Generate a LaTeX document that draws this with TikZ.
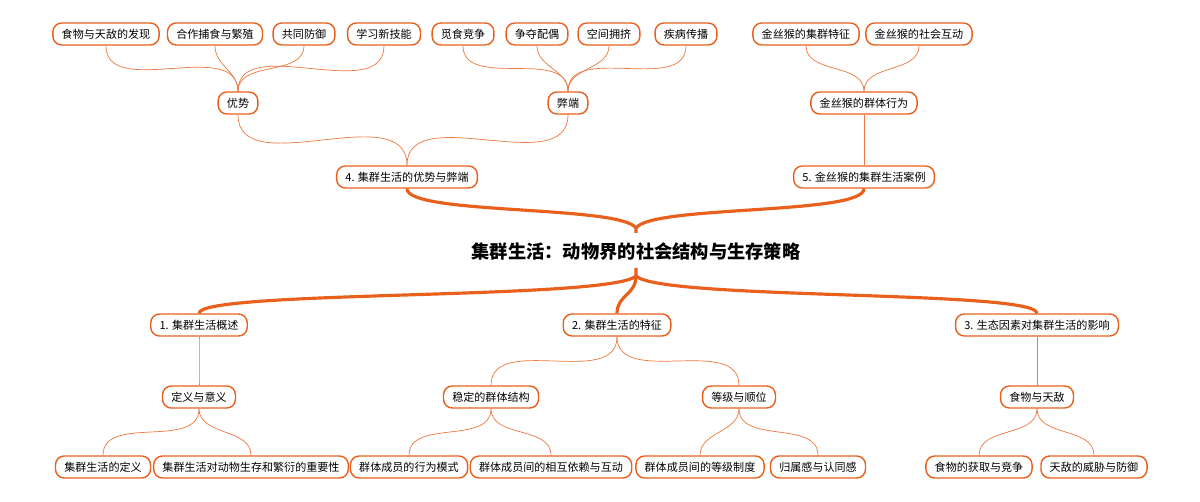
\documentclass[tikz,border=0pt]{standalone}
\usepackage{fontspec}
\setmainfont{Noto Sans CJK SC}
\usetikzlibrary{positioning}
\definecolor{mindorange}{HTML}{E8601C}
\tikzset{
  topic/.style={draw=mindorange, line width=0.8pt, rounded corners=5pt, fill=white,
    minimum height=0.44cm, inner xsep=5pt, font=\fontsize{6.3}{7}\selectfont},
  thin link/.style={draw=mindorange!85, line width=0.4pt},
  thick link/.style={draw=mindorange, line width=1.8pt}
}
\begin{document}
\begin{tikzpicture}[x=0.02cm, y=-0.02cm]
	\useasboundingbox (0,0) rectangle (1200,502);

	%Root of the map
	\node[font=\fontsize{10.4}{12}\selectfont\bfseries] (root) at (636,252) {集群生活：动物界的社会结构与生存策略};
	\coordinate (rt) at (636,233);
	\coordinate (rb) at (636,268);

	%First level
	\node[topic] (adv) at (407,177) {4. 集群生活的优势与弊端};
	\node[topic] (case) at (864,177) {5. 金丝猴的集群生活案例};
	\node[topic] (over) at (199,325) {1. 集群生活概述};
	\node[topic] (feat) at (617,325) {2. 集群生活的特征};
	\node[topic] (eco) at (1037,325) {3. 生态因素对集群生活的影响};

	%Second level
	\node[topic] (pro) at (238,103) {优势};
	\node[topic] (con) at (568,103) {弊端};
	\node[topic] (beh) at (864,103) {金丝猴的群体行为};
	\node[topic] (defn) at (199,397) {定义与意义};
	\node[topic] (stab) at (491,397) {稳定的群体结构};
	\node[topic] (rank) at (739,397) {等级与顺位};
	\node[topic] (food) at (1037,397) {食物与天敌};

	%Leaves on top
	\node[topic] (p1) at (106,34) {食物与天敌的发现};
	\node[topic] (p2) at (215,34) {合作捕食与繁殖};
	\node[topic] (p3) at (304,34) {共同防御};
	\node[topic] (p4) at (384,34) {学习新技能};
	\node[topic] (c1) at (463,34) {觅食竞争};
	\node[topic] (c2) at (537,34) {争夺配偶};
	\node[topic] (c3) at (609,34) {空间拥挤};
	\node[topic] (c4) at (686,34) {疾病传播};
	\node[topic] (b1) at (806,34) {金丝猴的集群特征};
	\node[topic] (b2) at (919,34) {金丝猴的社会互动};

	%Leaves at the bottom
	\node[topic] (d1) at (103,467) {集群生活的定义};
	\node[topic] (d2) at (251,467) {集群生活对动物生存和繁衍的重要性};
	\node[topic] (s1) at (409,467) {群体成员的行为模式};
	\node[topic] (s2) at (551,467) {群体成员间的相互依赖与互动};
	\node[topic] (r1) at (700,467) {群体成员间的等级制度};
	\node[topic] (r2) at (818,467) {归属感与认同感};
	\node[topic] (f1) at (979,467) {食物的获取与竞争};
	\node[topic] (f2) at (1094,467) {天敌的威胁与防御};

	%Thick links from the root
	\draw[thick link] (rt) -- (636,228) .. controls (620,205) and (407,215) .. (adv.south);
	\draw[thick link] (636,228) .. controls (652,205) and (864,215) .. (case.south);
	\draw[thick link] (rb) -- (636,276) .. controls (610,300) and (199,290) .. (over.north);
	\draw[thick link] (636,276) .. controls (636,295) and (617,295) .. (feat.north);
	\draw[thick link] (636,276) .. controls (660,300) and (1037,290) .. (eco.north);

	%Thin links upwards
	\foreach \a/\b in {adv/pro,adv/con,case/beh,pro/p1,pro/p2,pro/p3,pro/p4,con/c1,con/c2,con/c3,con/c4,beh/b1,beh/b2}
		\draw[thin link] (\a.north) to[out=90,in=-90] (\b.south);

	%Thin links downwards
	\foreach \a/\b in {over/defn,feat/stab,feat/rank,eco/food,defn/d1,defn/d2,stab/s1,stab/s2,rank/r1,rank/r2,food/f1,food/f2}
		\draw[thin link] (\a.south) to[out=-90,in=90] (\b.north);
\end{tikzpicture}
\end{document}
